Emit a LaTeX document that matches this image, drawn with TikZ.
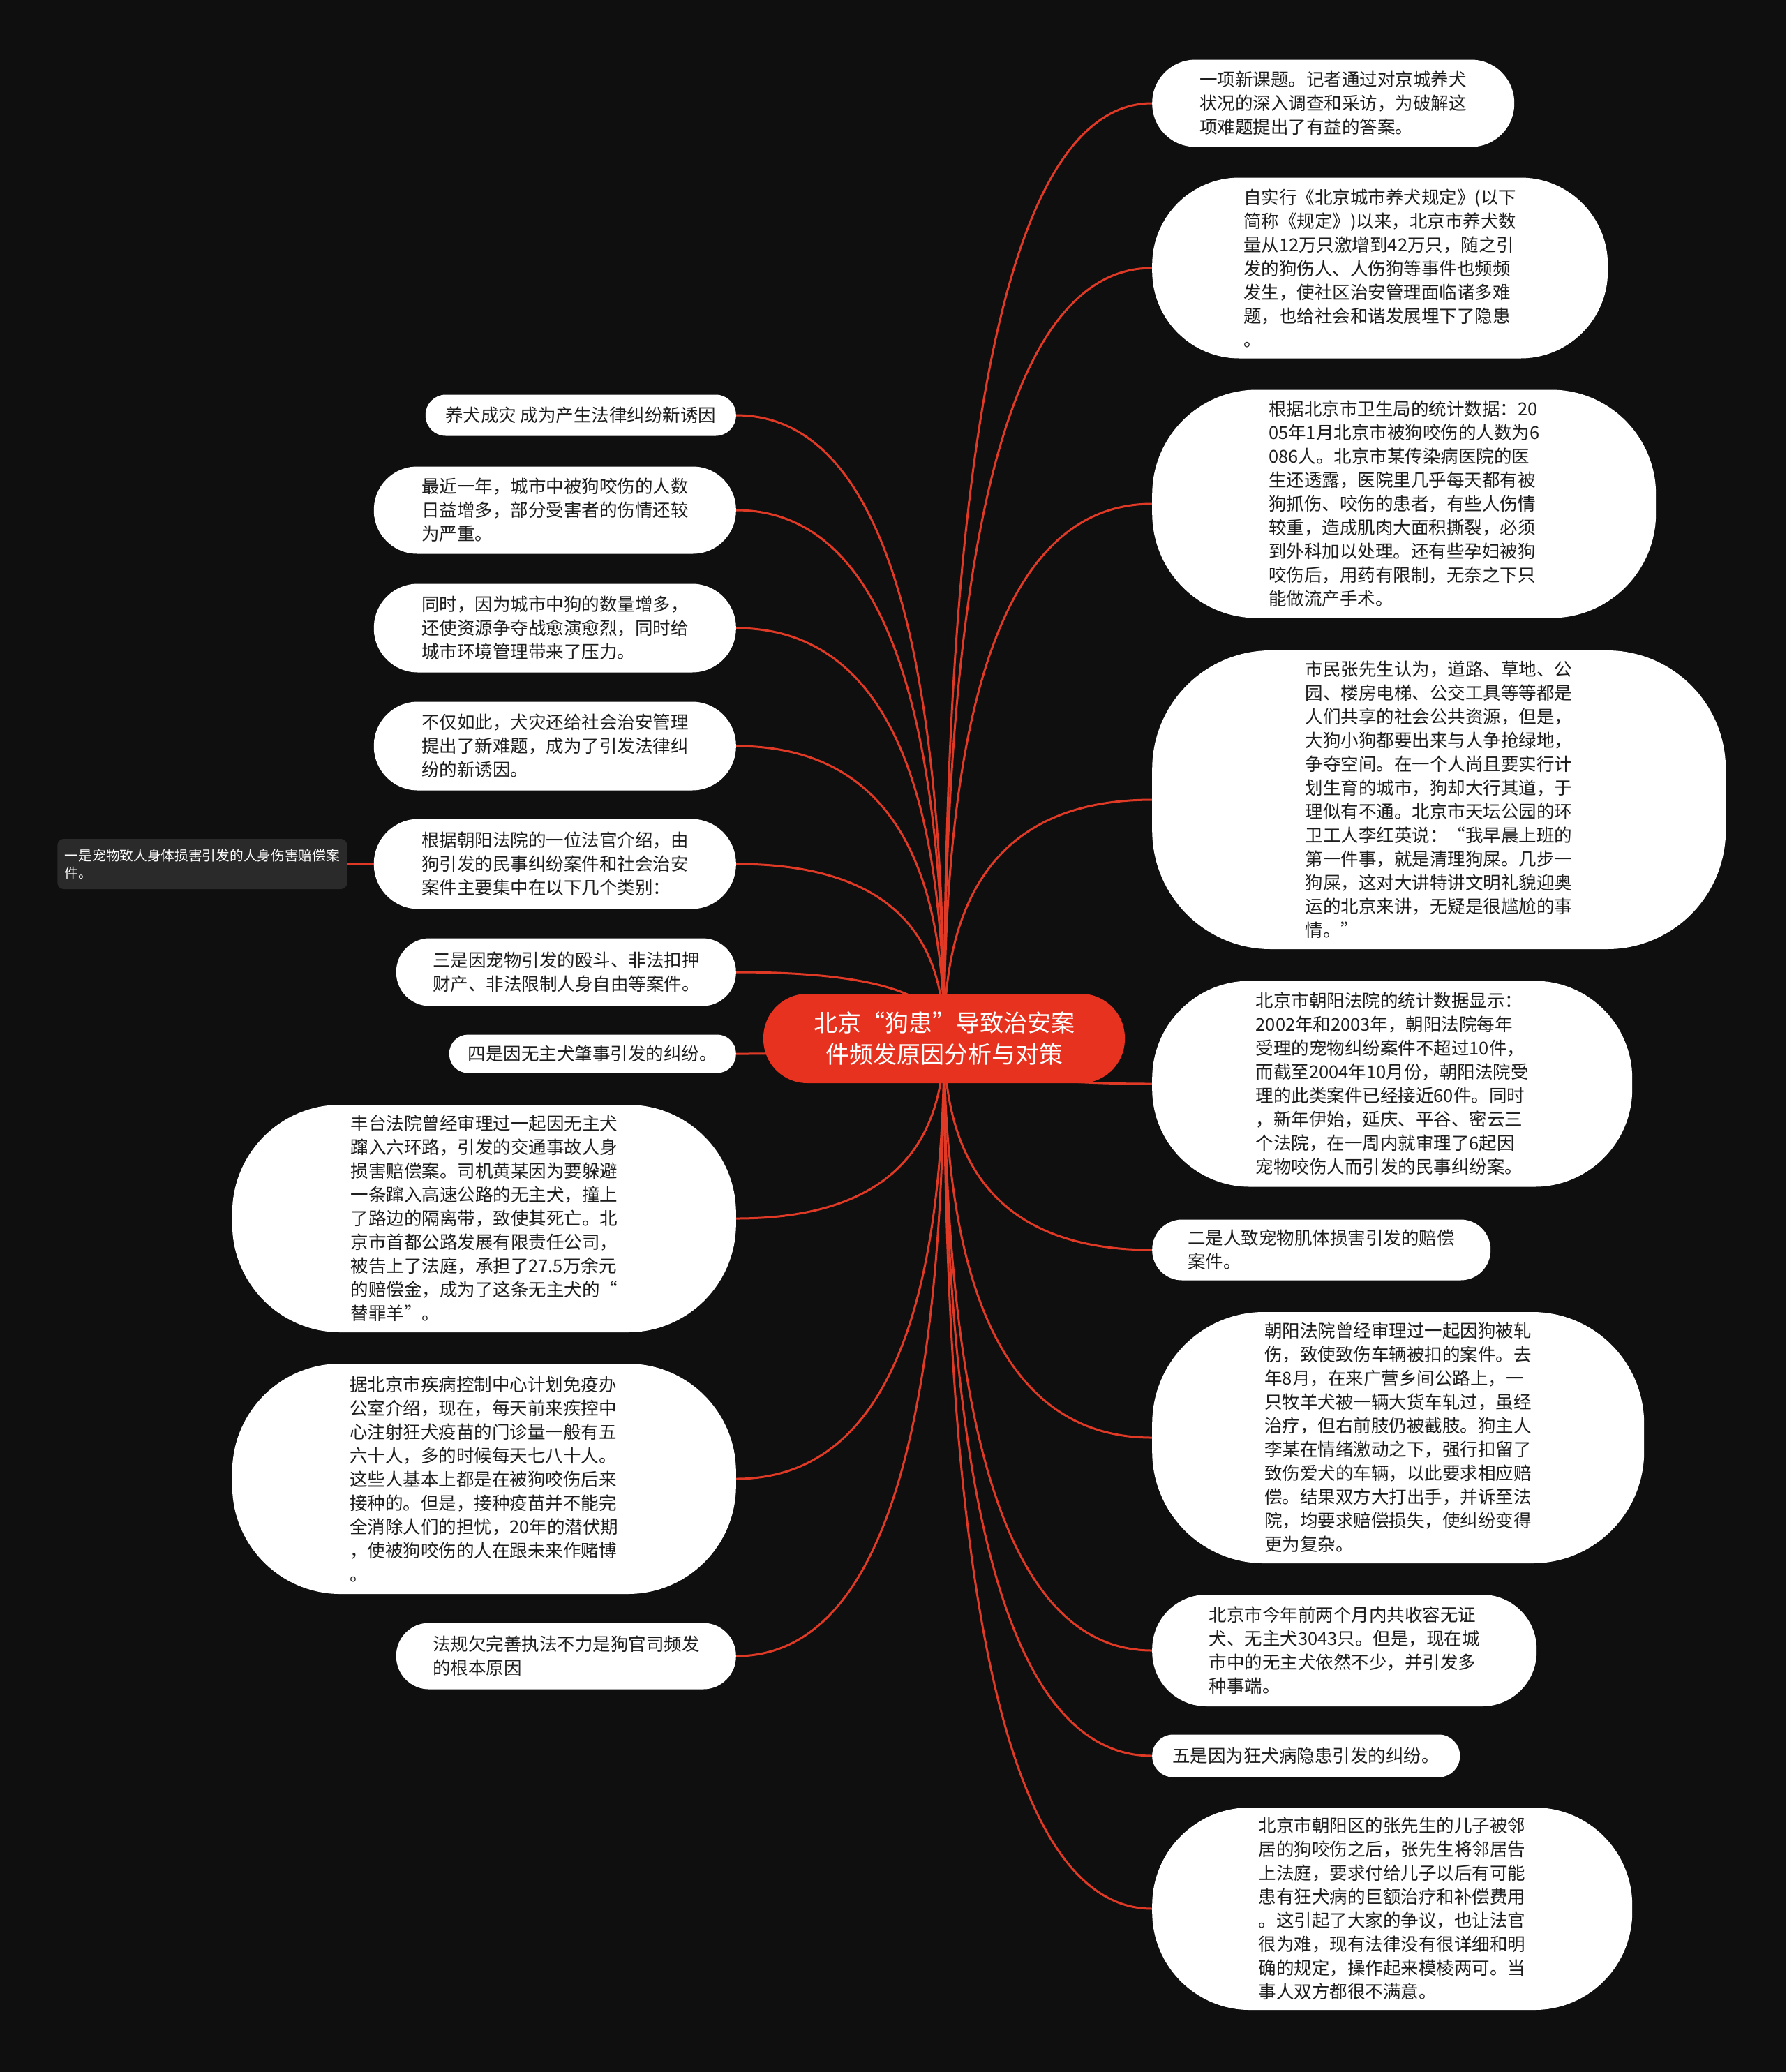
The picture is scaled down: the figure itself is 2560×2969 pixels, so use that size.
\documentclass[tikz,border=0pt]{standalone}
\usepackage{fontspec}
\setmainfont{Noto Sans CJK SC}
\usetikzlibrary{positioning, calc, backgrounds}
\definecolor{pagebg}{HTML}{0F0F0F}
\definecolor{hubred}{HTML}{E6321E}
\definecolor{wirered}{HTML}{E03A27}
\definecolor{leaftext}{HTML}{1E1E1E}
\definecolor{notefill}{HTML}{2A2A2A}
\newcommand{\leaffont}{\fontsize{25.5pt}{34pt}\selectfont}
\newcommand{\hubfont}{\fontsize{34pt}{45pt}\selectfont}
\newcommand{\notefont}{\fontsize{19.7pt}{25pt}\selectfont}
\tikzset{
  leafbox/.style={fill=white, text=leaftext, font=\leaffont, align=left,
                  inner sep=0pt, rounded corners=#1},
  leafbox/.default=30pt,
  hubbox/.style={fill=hubred, text=white, font=\hubfont, align=center,
                 inner sep=0pt, rounded corners=63pt},
  notebox/.style={fill=notefill, text=white, font=\notefont, align=left,
                  inner sep=10pt, rounded corners=9pt},
  wire/.style={draw=wirered, line width=3pt},
}

\begin{document}
\begin{tikzpicture}[x=1pt, y=-1pt]
  \begin{scope}[on background layer]
    \fill[pagebg] (0,0) rectangle (2560,2969);
  \end{scope}

  % centre topic
  \node[hubbox, minimum width=518pt, minimum height=128pt] (hub) at (1353,1488)
    {北京“狗患”导致治安案\\件频发原因分析与对策};

  % right column
  \node[leafbox=62pt, minimum width=519pt, minimum height=125pt, anchor=west] (r1) at (1651,148) {
    一项新课题。记者通过对京城养犬\\
    状况的深入调查和采访，为破解这\\
    项难题提出了有益的答案。};
  \node[leafbox=125pt, minimum width=653pt, minimum height=259pt, anchor=west] (r2) at (1651,384) {
    自实行《北京城市养犬规定》(以下\\
    简称《规定》)以来，北京市养犬数\\
    量从12万只激增到42万只，随之引\\
    发的狗伤人、人伤狗等事件也频频\\
    发生，使社区治安管理面临诸多难\\
    题，也给社会和谐发展埋下了隐患\\
    。};
  \node[leafbox=150pt, minimum width=722pt, minimum height=327pt, anchor=west] (r3) at (1651,722) {
    根据北京市卫生局的统计数据：20\\
    05年1月北京市被狗咬伤的人数为6\\
    086人。北京市某传染病医院的医\\
    生还透露，医院里几乎每天都有被\\
    狗抓伤、咬伤的患者，有些人伤情\\
    较重，造成肌肉大面积撕裂，必须\\
    到外科加以处理。还有些孕妇被狗\\
    咬伤后，用药有限制，无奈之下只\\
    能做流产手术。};
  \node[leafbox=170pt, minimum width=822pt, minimum height=428pt, anchor=west] (r4) at (1651,1146) {
    市民张先生认为，道路、草地、公\\
    园、楼房电梯、公交工具等等都是\\
    人们共享的社会公共资源，但是，\\
    大狗小狗都要出来与人争抢绿地，\\
    争夺空间。在一个人尚且要实行计\\
    划生育的城市，狗却大行其道，于\\
    理似有不通。北京市天坛公园的环\\
    卫工人李红英说：“我早晨上班的\\
    第一件事，就是清理狗屎。几步一\\
    狗屎，这对大讲特讲文明礼貌迎奥\\
    运的北京来讲，无疑是很尴尬的事\\
    情。”};
  \node[leafbox=140pt, minimum width=688pt, minimum height=295pt, anchor=west] (r5) at (1651,1553) {
    北京市朝阳法院的统计数据显示：\\
    2002年和2003年，朝阳法院每年\\
    受理的宠物纠纷案件不超过10件，\\
    而截至2004年10月份，朝阳法院受\\
    理的此类案件已经接近60件。同时\\
    ，新年伊始，延庆、平谷、密云三\\
    个法院，在一周内就审理了6起因\\
    宠物咬伤人而引发的民事纠纷案。};
  \node[leafbox=43pt, minimum width=485pt, minimum height=87pt, anchor=west] (r6) at (1651,1791) {
    二是人致宠物肌体损害引发的赔偿\\
    案件。};
  \node[leafbox=160pt, minimum width=705pt, minimum height=360pt, anchor=west] (r7) at (1651,2060) {
    朝阳法院曾经审理过一起因狗被轧\\
    伤，致使致伤车辆被扣的案件。去\\
    年8月，在来广营乡间公路上，一\\
    只牧羊犬被一辆大货车轧过，虽经\\
    治疗，但右前肢仍被截肢。狗主人\\
    李某在情绪激动之下，强行扣留了\\
    致伤爱犬的车辆，以此要求相应赔\\
    偿。结果双方大打出手，并诉至法\\
    院，均要求赔偿损失，使纠纷变得\\
    更为复杂。};
  \node[leafbox=78pt, minimum width=551pt, minimum height=160pt, anchor=west] (r8) at (1651,2365) {
    北京市今年前两个月内共收容无证\\
    犬、无主犬3043只。但是，现在城\\
    市中的无主犬依然不少，并引发多\\
    种事端。};
  \node[leafbox=30pt, minimum width=441pt, minimum height=61pt, anchor=west] (r9) at (1651,2516) {
    五是因为狂犬病隐患引发的纠纷。};
  \node[leafbox=140pt, minimum width=688pt, minimum height=290pt, anchor=west] (r10) at (1651,2735) {
    北京市朝阳区的张先生的儿子被邻\\
    居的狗咬伤之后，张先生将邻居告\\
    上法庭，要求付给儿子以后有可能\\
    患有狂犬病的巨额治疗和补偿费用\\
    。这引起了大家的争议，也让法官\\
    很为难，现有法律没有很详细和明\\
    确的规定，操作起来模棱两可。当\\
    事人双方都很不满意。};

  % left column
  \node[leafbox=29pt, minimum width=445pt, minimum height=59pt, anchor=east] (l1) at (1055,595) {
    养犬成灾 成为产生法律纠纷新诱因};
  \node[leafbox=62pt, minimum width=519pt, minimum height=125pt, anchor=east] (l2) at (1055,731) {
    最近一年，城市中被狗咬伤的人数\\
    日益增多，部分受害者的伤情还较\\
    为严重。};
  \node[leafbox=63pt, minimum width=519pt, minimum height=127pt, anchor=east] (l3) at (1055,900) {
    同时，因为城市中狗的数量增多，\\
    还使资源争夺战愈演愈烈，同时给\\
    城市环境管理带来了压力。};
  \node[leafbox=63pt, minimum width=519pt, minimum height=127pt, anchor=east] (l4) at (1055,1069) {
    不仅如此，犬灾还给社会治安管理\\
    提出了新难题，成为了引发法律纠\\
    纷的新诱因。};
  \node[leafbox=64pt, minimum width=519pt, minimum height=129pt, anchor=east] (l5) at (1055,1238) {
    根据朝阳法院的一位法官介绍，由\\
    狗引发的民事纠纷案件和社会治安\\
    案件主要集中在以下几个类别：};
  \node[notebox, minimum width=415pt, minimum height=72pt, left=38pt of l5] (l5a) {
    一是宠物致人身体损害引发的人身伤害赔偿案\\
    件。};
  \node[leafbox=48pt, minimum width=487pt, minimum height=97pt, anchor=east] (l6) at (1055,1393) {
    三是因宠物引发的殴斗、非法扣押\\
    财产、非法限制人身自由等案件。};
  \node[leafbox=27pt, minimum width=411pt, minimum height=55pt, anchor=east] (l7) at (1055,1510) {
    四是因无主犬肇事引发的纠纷。};
  \node[leafbox=155pt, minimum width=722pt, minimum height=326pt, anchor=east] (l8) at (1055,1746) {
    丰台法院曾经审理过一起因无主犬\\
    蹿入六环路，引发的交通事故人身\\
    损害赔偿案。司机黄某因为要躲避\\
    一条蹿入高速公路的无主犬，撞上\\
    了路边的隔离带，致使其死亡。北\\
    京市首都公路发展有限责任公司，\\
    被告上了法庭，承担了27.5万余元\\
    的赔偿金，成为了这条无主犬的“\\
    替罪羊”。};
  \node[leafbox=155pt, minimum width=722pt, minimum height=330pt, anchor=east] (l9) at (1055,2119) {
    据北京市疾病控制中心计划免疫办\\
    公室介绍，现在，每天前来疾控中\\
    心注射狂犬疫苗的门诊量一般有五\\
    六十人，多的时候每天七八十人。\\
    这些人基本上都是在被狗咬伤后来\\
    接种的。但是，接种疫苗并不能完\\
    全消除人们的担忧，20年的潜伏期\\
    ，使被狗咬伤的人在跟未来作赌博\\
    。};
  \node[leafbox=47pt, minimum width=487pt, minimum height=95pt, anchor=east] (l10) at (1055,2373) {
    法规欠完善执法不力是狗官司频发\\
    的根本原因};

  % connectors
  \begin{scope}[on background layer]
    \foreach \n/\a in {r1/west, r2/west, r3/west, r4/west, r5/west, r6/west,
                       r7/west, r8/west, r9/west, r10/west,
                       l1/east, l2/east, l3/east, l4/east, l5/east, l6/east,
                       l7/east, l8/east, l9/east, l10/east}
      \draw[wire] (hub.center)
        .. controls ($(hub.center)!0.667!(hub.center |- \n.\a)$)
           and ($(\n.\a)!0.667!(hub.center |- \n.\a)$) .. (\n.\a);
    \draw[wire] (l5a.east) -- (l5.west);
  \end{scope}
\end{tikzpicture}
\end{document}
